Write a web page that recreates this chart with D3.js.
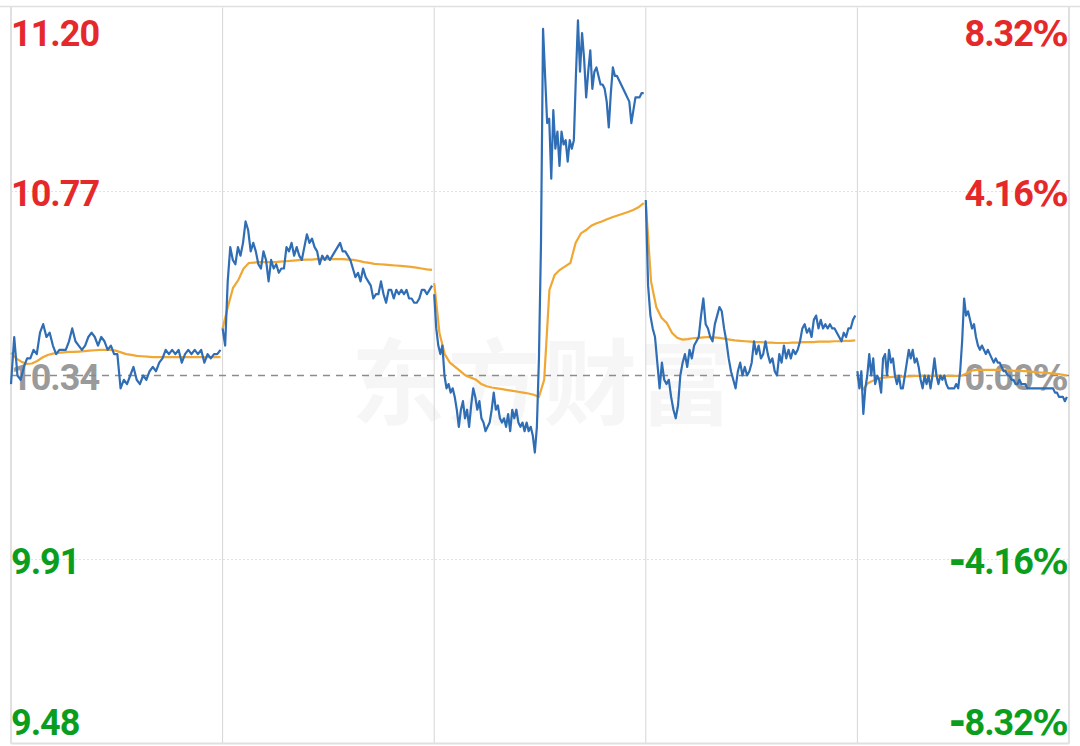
<!DOCTYPE html>
<html lang="zh">
<head>
<meta charset="utf-8">
<title>五日分时</title>
<style>
body { margin: 0; background: #fff; }
svg { display: block; }
.tick-label { font-family: Roboto, "Noto Sans", sans-serif; font-size: 36px; font-weight: 700; letter-spacing: -1px; }
.tick-label .pct { font-family: "DejaVu Sans", sans-serif; font-size: 35px; }
.tick-label .minus { font-family: "DejaVu Sans", sans-serif; font-size: 40px; }
.watermark { font-family: "Noto Sans CJK SC", sans-serif; font-size: 94px; font-weight: 700; }
</style>
</head>
<body>
<div id="chart"></div>
<script src="https://d3js.org/d3.v7.min.js"></script>
<script>
// reference price (previous close) and axis labels
var preClose = 10.34;
var priceTicks = [11.20, 10.77, 10.34, 9.91, 9.48];
var priceLabels = ["11.20", "10.77", "10.34", "9.91", "9.48"];
var pctLabels = ["8.32%", "4.16%", "0.00%", "-4.16%", "-8.32%"];
var watermark = "东方财富";

// minute prices, one array per trading day
var day1Price = [10.32, 10.43, 10.34, 10.33, 10.36, 10.38, 10.38, 10.40, 10.39, 10.44, 10.46, 10.43, 10.44, 10.41, 10.39, 10.40, 10.40, 10.40, 10.42, 10.45, 10.42, 10.41, 10.40, 10.41, 10.43, 10.44, 10.43, 10.41, 10.43, 10.42, 10.40, 10.41, 10.39, 10.39, 10.31, 10.33, 10.32, 10.34, 10.36, 10.33, 10.32, 10.34, 10.33, 10.35, 10.36, 10.35, 10.37, 10.38, 10.40, 10.39, 10.40, 10.39, 10.40, 10.37, 10.39, 10.40, 10.39, 10.40, 10.39, 10.40, 10.37, 10.39, 10.38, 10.39, 10.39, 10.40];
var day2Price = [10.45, 10.41, 10.56, 10.64, 10.61, 10.60, 10.64, 10.62, 10.65, 10.70, 10.68, 10.63, 10.65, 10.63, 10.60, 10.59, 10.63, 10.61, 10.56, 10.61, 10.59, 10.60, 10.58, 10.59, 10.59, 10.64, 10.63, 10.65, 10.62, 10.64, 10.62, 10.61, 10.64, 10.67, 10.65, 10.66, 10.64, 10.63, 10.60, 10.62, 10.61, 10.62, 10.61, 10.62, 10.63, 10.64, 10.65, 10.63, 10.63, 10.62, 10.61, 10.59, 10.57, 10.58, 10.56, 10.59, 10.57, 10.56, 10.55, 10.52, 10.53, 10.53, 10.56, 10.53, 10.51, 10.54, 10.54, 10.52, 10.54, 10.53, 10.54, 10.53, 10.54, 10.52, 10.52, 10.51, 10.51, 10.52, 10.54, 10.54, 10.53, 10.54, 10.55];
var day3Price = [10.53, 10.45, 10.41, 10.39, 10.41, 10.34, 10.31, 10.32, 10.30, 10.31, 10.29, 10.26, 10.22, 10.26, 10.28, 10.24, 10.26, 10.22, 10.27, 10.31, 10.29, 10.26, 10.28, 10.24, 10.23, 10.21, 10.22, 10.23, 10.26, 10.30, 10.26, 10.27, 10.24, 10.23, 10.24, 10.22, 10.25, 10.21, 10.26, 10.24, 10.26, 10.23, 10.22, 10.23, 10.21, 10.23, 10.21, 10.22, 10.20, 10.16, 10.22, 10.38, 10.65, 11.15, 11.04, 10.93, 10.94, 10.80, 10.96, 10.87, 10.91, 10.83, 10.91, 10.88, 10.89, 10.84, 10.89, 10.87, 10.89, 11.04, 11.17, 11.05, 11.14, 11.08, 10.99, 11.05, 11.10, 11.01, 11.05, 11.06, 11.04, 11.02, 11.02, 11.01, 10.98, 10.92, 11.00, 11.06, 11.04, 11.04, 11.03, 11.02, 11.01, 11.00, 10.99, 10.98, 10.93, 10.96, 10.99, 10.99, 10.99, 11.00, 11.00];
var day4Price = [10.75, 10.55, 10.48, 10.45, 10.43, 10.37, 10.31, 10.37, 10.33, 10.32, 10.33, 10.29, 10.26, 10.24, 10.27, 10.34, 10.37, 10.39, 10.36, 10.40, 10.38, 10.41, 10.42, 10.43, 10.48, 10.52, 10.46, 10.45, 10.43, 10.42, 10.46, 10.48, 10.50, 10.49, 10.45, 10.42, 10.38, 10.35, 10.33, 10.31, 10.35, 10.37, 10.34, 10.36, 10.34, 10.35, 10.37, 10.42, 10.39, 10.41, 10.38, 10.39, 10.42, 10.39, 10.37, 10.38, 10.35, 10.34, 10.39, 10.37, 10.41, 10.38, 10.40, 10.38, 10.40, 10.39, 10.40, 10.42, 10.45, 10.46, 10.44, 10.45, 10.43, 10.47, 10.48, 10.45, 10.47, 10.45, 10.46, 10.45, 10.46, 10.45, 10.45, 10.44, 10.43, 10.42, 10.44, 10.43, 10.45, 10.45, 10.47, 10.48];
var day5Price = [10.35, 10.31, 10.35, 10.25, 10.31, 10.34, 10.39, 10.34, 10.38, 10.32, 10.34, 10.33, 10.30, 10.38, 10.39, 10.34, 10.40, 10.37, 10.38, 10.34, 10.32, 10.34, 10.31, 10.31, 10.34, 10.37, 10.40, 10.38, 10.40, 10.37, 10.38, 10.36, 10.33, 10.31, 10.34, 10.32, 10.34, 10.31, 10.34, 10.38, 10.34, 10.32, 10.34, 10.33, 10.34, 10.32, 10.31, 10.31, 10.31, 10.31, 10.32, 10.31, 10.35, 10.42,
  10.52, 10.48, 10.49, 10.47, 10.45, 10.46, 10.43, 10.41, 10.40, 10.41, 10.40, 10.39, 10.40, 10.39, 10.38, 10.37, 10.38, 10.37, 10.37, 10.36, 10.35, 10.35, 10.34, 10.34, 10.33, 10.33, 10.32, 10.32, 10.33, 10.32, 10.32, 10.32, 10.31, 10.31, 10.31, 10.31, 10.31, 10.31, 10.31, 10.31, 10.31, 10.31, 10.31, 10.31, 10.31, 10.31, 10.30, 10.30, 10.29, 10.29, 10.29, 10.28, 10.29];

// average price line, one array per day
var day1Avg = [10.393, 10.38, 10.372, 10.367, 10.368, 10.374, 10.382, 10.388, 10.391, 10.393, 10.394, 10.395, 10.395, 10.396, 10.397, 10.398, 10.399, 10.40, 10.40, 10.40, 10.398, 10.394, 10.39, 10.388, 10.386, 10.385, 10.384, 10.383, 10.383, 10.383, 10.383, 10.383, 10.383, 10.383, 10.383, 10.383, 10.383, 10.383, 10.383, 10.383, 10.383];
var day2Avg = [10.45, 10.50, 10.545, 10.563, 10.59, 10.603, 10.604, 10.605, 10.605, 10.605, 10.605, 10.606, 10.607, 10.608, 10.609, 10.61, 10.611, 10.611, 10.612, 10.612, 10.612, 10.612, 10.612, 10.612, 10.611, 10.61, 10.608, 10.605, 10.603, 10.601, 10.60, 10.599, 10.598, 10.597, 10.596, 10.595, 10.594, 10.592, 10.59, 10.588, 10.587];
var day3Avg = [10.556, 10.44, 10.39, 10.37, 10.36, 10.35, 10.34, 10.335, 10.33, 10.32, 10.315, 10.312, 10.31, 10.308, 10.306, 10.304, 10.302, 10.30, 10.298, 10.295, 10.29, 10.33, 10.54, 10.575, 10.587, 10.595, 10.603, 10.65, 10.672, 10.68, 10.69, 10.696, 10.70, 10.705, 10.71, 10.714, 10.718, 10.722, 10.727, 10.733, 10.743];
var day4Avg = [10.745, 10.56, 10.50, 10.475, 10.463, 10.44, 10.428, 10.424, 10.425, 10.427, 10.428, 10.429, 10.43, 10.429, 10.428, 10.426, 10.424, 10.422, 10.421, 10.42, 10.419, 10.418, 10.418, 10.417, 10.417, 10.416, 10.416, 10.416, 10.417, 10.417, 10.418, 10.418, 10.418, 10.419, 10.419, 10.419, 10.42, 10.42, 10.421, 10.421, 10.422];
var day5Avg = [10.336, 10.306, 10.322, 10.328, 10.333, 10.335, 10.336, 10.337, 10.337, 10.338, 10.338, 10.339, 10.339, 10.339, 10.339, 10.339, 10.339, 10.339, 10.339, 10.339, 10.34, 10.346, 10.352, 10.353, 10.353, 10.353, 10.353, 10.353, 10.353, 10.352, 10.351, 10.351, 10.35, 10.349, 10.348, 10.347, 10.346, 10.345, 10.344, 10.342, 10.34];

var priceDays = [day1Price, day2Price, day3Price, day4Price, day5Price];
var avgDays = [day1Avg, day2Avg, day3Avg, day4Avg, day5Avg];

var W = 1080, H = 746;
var plotL = 11, plotR = 1069, plotT = 7.5, plotB = 743.5;

var svg = d3.select("#chart").append("svg")
    .attr("width", W)
    .attr("height", H);

var x = d3.scaleLinear().domain([0, priceDays.length]).range([plotL, plotR]);
var y = d3.scaleLinear().domain([9.48, 11.20]).range([plotB, plotT]);

// spread one day's values across its slot
function toPoints(arr, d) {
  return arr.map(function(v, i) {
    return { t: d + i / (arr.length - 1) * 0.99, v: v };
  });
}

function labelColor(v) {
  if (v > preClose) return "#e5292b";
  if (v < preClose) return "#0b9e1e";
  return "#9a9a9a";
}

// watermark
svg.append("text")
    .attr("class", "watermark")
    .attr("x", 543)
    .attr("y", 377)
    .attr("text-anchor", "middle")
    .attr("dominant-baseline", "central")
    .attr("fill", "#000")
    .attr("fill-opacity", 0.035)
    .attr("letter-spacing", "2px")
    .text(watermark);

// vertical day separators
svg.append("g").selectAll("line")
    .data(d3.range(1, priceDays.length))
  .enter().append("line")
    .attr("x1", function(d) { return x(d); })
    .attr("x2", function(d) { return x(d); })
    .attr("y1", plotT)
    .attr("y2", plotB)
    .attr("stroke", "#d6d6d6")
    .attr("stroke-width", 1);

// inner horizontal grid (dotted)
svg.append("g").selectAll("line")
    .data([priceTicks[1], priceTicks[3]])
  .enter().append("line")
    .attr("x1", plotL)
    .attr("x2", plotR)
    .attr("y1", function(d) { return y(d); })
    .attr("y2", function(d) { return y(d); })
    .attr("stroke", "#e2e2e2")
    .attr("stroke-width", 1)
    .attr("stroke-dasharray", "2,2");

// frame
svg.append("line").attr("x1", 0).attr("x2", W).attr("y1", plotT - 1).attr("y2", plotT - 1)
    .attr("stroke", "#e0e0e0").attr("stroke-width", 1.5);
svg.append("line").attr("x1", plotL).attr("x2", plotL).attr("y1", plotT - 1).attr("y2", plotB)
    .attr("stroke", "#e0e0e0").attr("stroke-width", 2);
svg.append("line").attr("x1", plotR).attr("x2", plotR).attr("y1", plotT - 1).attr("y2", plotB)
    .attr("stroke", "#e0e0e0").attr("stroke-width", 2);
svg.append("line").attr("x1", plotL).attr("x2", plotR).attr("y1", plotB).attr("y2", plotB)
    .attr("stroke", "#e0e0e0").attr("stroke-width", 2);

// tick labels
function labelY(v, i) {
  if (i === 0) return y(v) + 38;
  if (i === priceTicks.length - 1) return y(v) - 9;
  return y(v) + 14;
}

svg.append("g").selectAll("text")
    .data(priceTicks)
  .enter().append("text")
    .attr("class", "tick-label")
    .attr("x", 11)
    .attr("y", labelY)
    .attr("fill", labelColor)
    .text(function(d, i) { return priceLabels[i]; });

// right labels: the sign and % glyphs are wider in the original font
var pct = svg.append("g").selectAll("text")
    .data(priceTicks)
  .enter().append("text")
    .attr("class", "tick-label")
    .attr("x", 1067)
    .attr("y", labelY)
    .attr("text-anchor", "end")
    .attr("fill", labelColor);

pct.each(function(d, i) {
  var s = pctLabels[i];
  var t = d3.select(this);
  var body = s.replace("%", "");
  if (body.charAt(0) === "-") {
    t.append("tspan").attr("class", "minus").text("-");
    body = body.slice(1);
  }
  t.append("tspan").text(body);
  t.append("tspan").attr("class", "pct").text("%");
});

// previous close dashed line
svg.append("line")
    .attr("x1", plotL)
    .attr("x2", plotR)
    .attr("y1", y(preClose))
    .attr("y2", y(preClose))
    .attr("stroke", "#8c8c8c")
    .attr("stroke-width", 1.5)
    .attr("stroke-dasharray", "7,6");

var line = d3.line()
    .x(function(d) { return x(d.t); })
    .y(function(d) { return y(d.v); });

// one path per day so sessions are not joined
svg.append("g").selectAll("path")
    .data(avgDays.map(toPoints))
  .enter().append("path")
    .attr("fill", "none")
    .attr("stroke", "#f0a733")
    .attr("stroke-width", 2.2)
    .attr("d", line);

svg.append("g").selectAll("path")
    .data(priceDays.map(toPoints))
  .enter().append("path")
    .attr("fill", "none")
    .attr("stroke", "#2f6db5")
    .attr("stroke-width", 2.2)
    .attr("stroke-linejoin", "round")
    .attr("d", line);
</script>
</body>
</html>
